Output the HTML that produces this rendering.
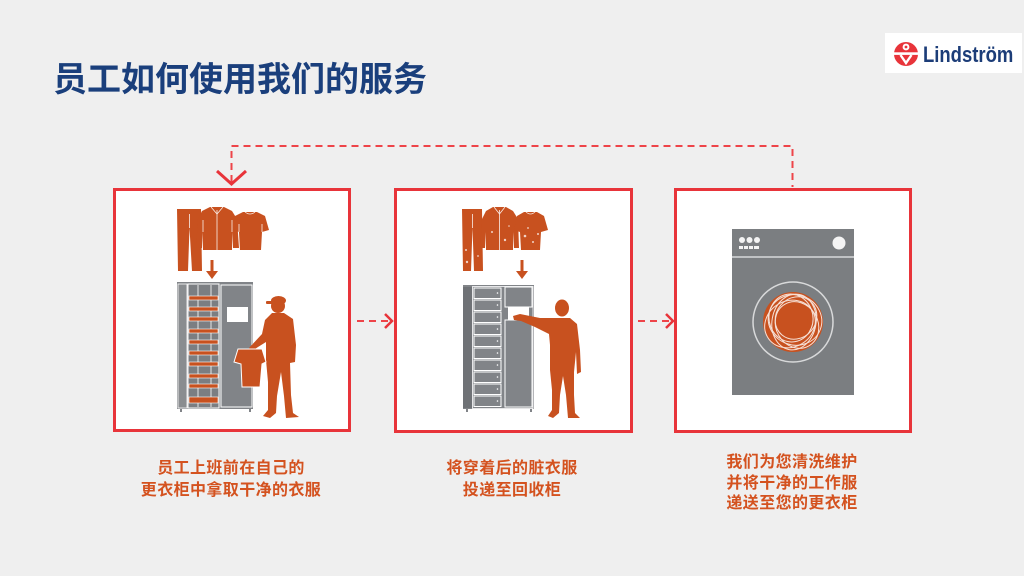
<!DOCTYPE html>
<html>
<head>
<meta charset="utf-8">
<style>
html,body{margin:0;padding:0;background:#efefef;}
body{width:1024px;height:576px;overflow:hidden;}
svg{display:block;}
.t{font-family:"Liberation Sans","Noto Sans CJK SC","WenQuanYi Zen Hei",sans-serif;font-weight:bold;}
</style>
</head>
<body>
<svg width="1024" height="576" viewBox="0 0 1024 576" xmlns="http://www.w3.org/2000/svg">
  <rect x="0" y="0" width="1024" height="576" fill="#efefef"/>

  <!-- Title -->
  <text class="t" x="53" y="91" font-size="34" fill="#1a3f7c">员工如何使用我们的服务</text>

  <!-- Logo -->
  <rect x="885" y="33" width="137" height="40" fill="#ffffff"/>
  <circle cx="906" cy="54" r="12" fill="#e8343a"/>
  <rect x="893" y="52.3" width="26" height="2.6" fill="#ffffff"/>
  <circle cx="906" cy="47" r="3.4" fill="#ffffff"/>
  <circle cx="906" cy="47" r="1.4" fill="#e8343a"/>
  <path d="M900.5,55 L906,63 L911.5,55" fill="none" stroke="#ffffff" stroke-width="2.4"/>
  <text class="t" x="0" y="0" font-size="22" fill="#1c3d78" transform="translate(923,62) scale(0.84,1)">Lindström</text>

  <!-- Dashed loop connector -->
  <path d="M231.5,182 L231.5,146 L792.5,146 L792.5,187" fill="none" stroke="#ee4449" stroke-width="2" stroke-dasharray="7,5"/>
  <polyline points="217,171 231.5,184 246,171" fill="none" stroke="#e8343a" stroke-width="3"/>

  <!-- Horizontal connectors -->
  <line x1="357" y1="321" x2="390" y2="321" stroke="#ee4449" stroke-width="2" stroke-dasharray="7,5"/>
  <polyline points="385,314 392,321 385,328" fill="none" stroke="#e8343a" stroke-width="2.5"/>
  <line x1="638" y1="321" x2="671" y2="321" stroke="#ee4449" stroke-width="2" stroke-dasharray="7,5"/>
  <polyline points="666,314 673,321 666,328" fill="none" stroke="#e8343a" stroke-width="2.5"/>

  <!-- Boxes -->
  <rect x="114.5" y="189.5" width="235" height="241" fill="#ffffff" stroke="#e8343a" stroke-width="3"/>
  <rect x="395.5" y="189.5" width="236" height="242" fill="#ffffff" stroke="#e8343a" stroke-width="3"/>
  <rect x="675.5" y="189.5" width="235" height="242" fill="#ffffff" stroke="#e8343a" stroke-width="3"/>

  <!-- ===== Illustration 1 ===== -->
  <g fill="#c8511f">
    <!-- pants -->
    <path d="M177,209 L201,209 L202,271 L192,271 L189.5,228 L188,271 L178,271 Z"/>
    <!-- jacket -->
    <path d="M210,207 L224,207 L232,211 L237,219 L239,248 L233,248 L232,232 L232,250 L203,250 L203,232 L202,248 L196,248 L198,219 L202,211 Z"/>
    <!-- t-shirt -->
    <path d="M243,212 L257,212 L265,216 L269,230 L262,232 L261,250 L240,250 L239,232 L232,230 L235,216 Z"/>
    <!-- arrow -->
    <rect x="210.5" y="260" width="3" height="12"/>
    <polygon points="206,271 218,271 212,279"/>
  </g>
  <g fill="none" stroke="#ffffff" stroke-width="0.8" opacity="0.9">
    <line x1="189.5" y1="214" x2="189.5" y2="228"/>
    <line x1="217" y1="210" x2="217" y2="250"/>
    <path d="M203,232 L203,220 M232,232 L232,220"/>
    <path d="M211,207 L217,214 L223,207"/>
    <path d="M245,212 Q250,216 255,212"/>
    <path d="M239,232 L239,224 M262,232 L262,224"/>
  </g>

  <!-- locker 1 -->
  <rect x="177" y="282" width="76" height="127" fill="#818488"/>
  <rect x="178" y="284" width="9" height="124" fill="#8a8d90" stroke="#ffffff" stroke-width="0.8"/>
  <rect x="188" y="284" width="31" height="124" fill="#7b7e82" stroke="#ffffff" stroke-width="1"/>
  <line x1="198" y1="285" x2="198" y2="407" stroke="#ffffff" stroke-width="0.8"/>
  <line x1="211" y1="285" x2="211" y2="407" stroke="#ffffff" stroke-width="0.8"/>
  <g fill="#c8511f" stroke="#ffffff" stroke-width="0.6">
    <rect x="189" y="296" width="29" height="4"/>
    <rect x="189" y="307" width="29" height="4"/>
    <rect x="189" y="317" width="29" height="4"/>
    <rect x="189" y="329" width="29" height="4"/>
    <rect x="189" y="340" width="29" height="4"/>
    <rect x="189" y="351" width="29" height="4"/>
    <rect x="189" y="362" width="29" height="4"/>
    <rect x="189" y="374" width="29" height="4"/>
    <rect x="189" y="384" width="29" height="4"/>
    <rect x="189" y="397" width="29" height="6"/>
  </g>
  <rect x="221" y="285" width="31" height="122" fill="#818488" stroke="#ffffff" stroke-width="1"/>
  <rect x="227" y="307" width="21" height="15" fill="#ffffff"/>
  <g fill="#818488">
    <rect x="180" y="409" width="2" height="3"/>
    <rect x="249" y="409" width="2" height="3"/>
  </g>

  <!-- person 1 -->
  <g fill="#c8511f">
    <circle cx="278" cy="306" r="7"/>
    <ellipse cx="278.5" cy="300.5" rx="7.5" ry="4.5"/>
    <rect x="266" y="301" width="9" height="3" rx="1"/>
    <path d="M272,313 L284,313 L293,319 L296,345 L295,362 L290,363 L291,395 L293,413 L299,417 L286,418 L284,396 L281,372 L277,396 L276,413 L270,418 L263,416 L268,410 L268,382 L266,360 L266,342 L258,347 L252,351 L249,348 L262,334 L265,320 Z"/>
  </g>
  <path d="M238,349 L262,349 L266,362 L262,364 L260,387 L242,387 L241,364 L234,362 Z" fill="#c8511f" stroke="#ffffff" stroke-width="1"/>

  <!-- ===== Illustration 2 ===== -->
  <g fill="#c8511f">
    <path d="M462,209 L482,209 L483,271 L474,271 L472.5,228 L471,271 L463,271 Z"/>
    <path d="M493,207 L506,207 L513,211 L518,219 L519,248 L514,248 L513,232 L513,250 L486,250 L486,232 L485,248 L480,248 L482,219 L486,211 Z"/>
    <path d="M524,212 L537,212 L544,216 L548,230 L541,232 L540,250 L521,250 L520,232 L514,230 L517,216 Z"/>
    <rect x="520.5" y="260" width="3" height="12"/>
    <polygon points="516,271 528,271 522,279"/>
  </g>
  <g fill="none" stroke="#ffffff" stroke-width="0.8" opacity="0.9">
    <line x1="472.5" y1="214" x2="472.5" y2="228"/>
    <line x1="499.5" y1="210" x2="499.5" y2="250"/>
    <path d="M494,207 L499.5,214 L505,207"/>
    <path d="M526,212 Q530.5,216 535,212"/>
  </g>
  <g fill="#ffffff" opacity="0.75">
    <circle cx="466" cy="250" r="1"/><circle cx="467" cy="262" r="1.2"/><circle cx="478" cy="256" r="0.9"/>
    <circle cx="492" cy="232" r="1"/><circle cx="505" cy="240" r="1.2"/><circle cx="509" cy="226" r="0.8"/>
    <circle cx="525" cy="236" r="1.3"/><circle cx="533" cy="242" r="1"/><circle cx="528" cy="228" r="0.9"/><circle cx="538" cy="234" r="1"/>
  </g>

  <!-- locker 2 -->
  <rect x="463" y="285" width="71" height="124" fill="#818488"/>
  <rect x="463" y="287" width="9" height="121" fill="#6f7276"/>
  <rect x="472.5" y="286.5" width="60.5" height="122" fill="none" stroke="#ffffff" stroke-width="0.8"/>
  <g fill="#818488" stroke="#ffffff" stroke-width="1">
    <rect x="474" y="288" width="27" height="10.5"/>
    <rect x="474" y="300" width="27" height="10.5"/>
    <rect x="474" y="312" width="27" height="10.5"/>
    <rect x="474" y="324" width="27" height="10.5"/>
    <rect x="474" y="336" width="27" height="10.5"/>
    <rect x="474" y="348" width="27" height="10.5"/>
    <rect x="474" y="360" width="27" height="10.5"/>
    <rect x="474" y="372" width="27" height="10.5"/>
    <rect x="474" y="384" width="27" height="10.5"/>
    <rect x="474" y="396" width="27" height="10.5"/>
  </g>
  <g fill="#ffffff">
    <circle cx="497.5" cy="293" r="0.8"/><circle cx="497.5" cy="305" r="0.8"/><circle cx="497.5" cy="317" r="0.8"/>
    <circle cx="497.5" cy="329" r="0.8"/><circle cx="497.5" cy="341" r="0.8"/><circle cx="497.5" cy="353" r="0.8"/>
    <circle cx="497.5" cy="365" r="0.8"/><circle cx="497.5" cy="377" r="0.8"/><circle cx="497.5" cy="389" r="0.8"/>
    <circle cx="497.5" cy="401" r="0.8"/>
  </g>
  <rect x="505" y="287" width="27" height="20" fill="#818488" stroke="#ffffff" stroke-width="1"/>
  <rect x="505" y="320" width="27" height="87" fill="#818488" stroke="#ffffff" stroke-width="1"/>
  <rect x="508" y="307" width="21" height="13" fill="#ffffff"/>
  <g fill="#818488">
    <rect x="466" y="409" width="2" height="3"/>
    <rect x="530" y="409" width="2" height="3"/>
  </g>

  <!-- person 2 -->
  <g fill="#c8511f">
    <ellipse cx="562" cy="308" rx="7" ry="8.5"/>
    <path d="M555,318 L570,318 L577,324 L580,350 L581,372 L577,374 L576,352 L574,372 L574,395 L575,413 L580,418 L568,418 L566,395 L563,376 L560,395 L559,413 L553,418 L548,416 L552,410 L552,390 L550,370 L550,345 L549,334 L535,327 L521,321 L514,320 L513,316 L520,314 L540,318 Z"/>
  </g>

  <!-- ===== Washing machine ===== -->
  <rect x="732" y="229" width="122" height="166" fill="#7b7e81"/>
  <line x1="732" y1="257" x2="854" y2="257" stroke="#d8d9da" stroke-width="1.5"/>
  <g fill="#f4f4f4">
    <circle cx="742" cy="240" r="3"/>
    <circle cx="749.5" cy="240" r="3"/>
    <circle cx="757" cy="240" r="3"/>
    <rect x="739" y="246" width="4" height="3"/>
    <rect x="744" y="246" width="4" height="3"/>
    <rect x="749" y="246" width="4" height="3"/>
    <rect x="754" y="246" width="5" height="3"/>
    <circle cx="839" cy="243" r="6.5"/>
  </g>
  <circle cx="793" cy="322" r="40" fill="none" stroke="#d8d9da" stroke-width="1.5"/>
  <circle cx="793" cy="322" r="30" fill="#c8511f"/>
  <g fill="none" stroke="#f6e0d6" stroke-width="1">
    <ellipse cx="795" cy="320" rx="27" ry="25" transform="rotate(20 795 320)"/>
    <ellipse cx="790" cy="324" rx="26" ry="23" transform="rotate(-30 790 324)"/>
    <ellipse cx="797" cy="325" rx="24" ry="21" transform="rotate(60 797 325)"/>
    <ellipse cx="791" cy="318" rx="22" ry="24" transform="rotate(-10 791 318)"/>
    <ellipse cx="794" cy="322" rx="28" ry="22" transform="rotate(100 794 322)"/>
    <ellipse cx="796" cy="318" rx="20" ry="22" transform="rotate(40 796 318)"/>
  </g>
  <circle cx="793" cy="322" r="15" fill="#c8511f"/>

  <!-- Captions -->
  <g class="t" font-size="16" fill="#d4521f" text-anchor="middle" letter-spacing="0.4">
    <text x="231" y="473">员工上班前在自己的</text>
    <text x="231" y="495">更衣柜中拿取干净的衣服</text>
    <text x="512" y="473">将穿着后的脏衣服</text>
    <text x="512" y="495">投递至回收柜</text>
    <text x="792" y="467">我们为您清洗维护</text>
    <text x="792" y="488">并将干净的工作服</text>
    <text x="792" y="508">递送至您的更衣柜</text>
  </g>
</svg>
</body>
</html>
